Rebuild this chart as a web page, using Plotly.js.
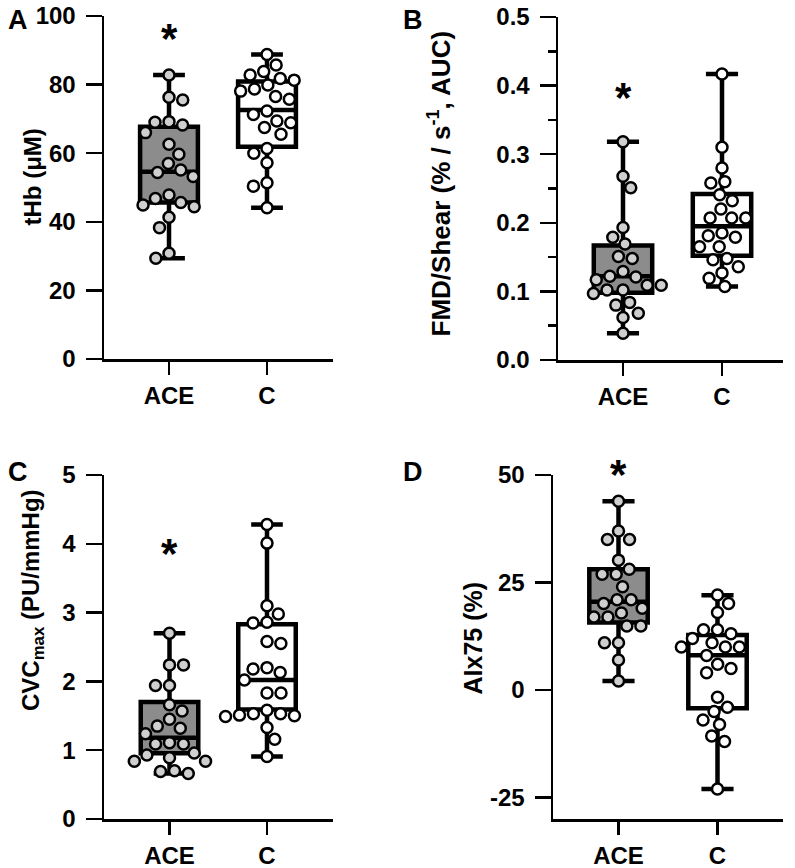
<!DOCTYPE html>
<html>
<head>
<meta charset="utf-8">
<script src="https://cdn.plot.ly/plotly-3.0.1.min.js"></script>
<style>html,body{margin:0;padding:0;background:#fff;}#chart{width:795px;height:868px;}</style>
</head>
<body>
<div id="chart"></div>
<script>
// ---------------- DATA ----------------
const groups = ["ACE", "C"];

// Panel A: tHb (µM)
const tHbACE = [82.8, 76.3, 75.5, 69.2, 68.2, 69.0, 66.0, 62.6, 59.7, 57.0, 54.4, 53.2, 55.1, 47.8, 46.8, 45.6, 44.9, 44.4, 41.3, 38.3, 30.8, 29.4];
const tHbC   = [88.8, 85.7, 83.8, 82.8, 81.3, 81.8, 79.9, 78.7, 78.1, 76.5, 75.7, 72.3, 71.3, 69.4, 68.9, 67.5, 65.5, 61.4, 60.0, 57.2, 51.4, 50.4, 44.1];
// box stats: [min, q1, median, q3, max]
const tHbBoxACE = [29.4, 45.6, 54.6, 67.7, 82.8];
const tHbBoxC   = [44.1, 61.9, 72.6, 80.9, 88.8];

// Panel B: FMD/Shear
const fmdACE = [0.318, 0.268, 0.251, 0.193, 0.179, 0.169, 0.151, 0.148, 0.129, 0.122, 0.117, 0.121, 0.109, 0.109, 0.102, 0.102, 0.097, 0.080, 0.084, 0.068, 0.062, 0.039];
const fmdC   = [0.417, 0.310, 0.280, 0.260, 0.258, 0.241, 0.232, 0.220, 0.207, 0.207, 0.207, 0.185, 0.181, 0.179, 0.165, 0.165, 0.148, 0.146, 0.136, 0.127, 0.119, 0.107];
const fmdBoxACE = [0.039, 0.098, 0.122, 0.167, 0.318];
const fmdBoxC   = [0.107, 0.152, 0.195, 0.242, 0.417];

// Panel C: CVCmax (PU/mmHg)
const cvcACE = [2.70, 2.24, 2.24, 1.94, 1.94, 1.66, 1.57, 1.45, 1.35, 1.32, 1.24, 1.11, 1.09, 1.09, 0.96, 0.93, 0.89, 0.84, 0.84, 0.69, 0.70, 0.66];
const cvcC   = [4.28, 4.01, 3.10, 2.98, 2.86, 2.85, 2.55, 2.58, 2.20, 2.18, 2.13, 2.02, 1.83, 1.83, 1.58, 1.50, 1.51, 1.49, 1.53, 1.53, 1.33, 1.16, 0.91];
const cvcBoxACE = [0.66, 0.955, 1.18, 1.70, 2.70];
const cvcBoxC   = [0.91, 1.59, 2.02, 2.83, 4.28];

// Panel D: AIx75 (%)
const aixACE = [43.9, 37.0, 35.0, 35.0, 30.2, 28.1, 26.9, 26.9, 24.0, 21.0, 21.0, 19.0, 20.1, 17.9, 17.0, 17.0, 14.9, 14.9, 11.0, 11.0, 7.0, 2.1];
const aixC   = [22.1, 20.1, 18.0, 14.0, 14.0, 13.1, 12.0, 11.0, 10.0, 10.0, 10.0, 8.0, 5.0, 6.0, 4.0, -1.7, -4.0, -5.0, -7.0, -8.0, -10.7, -12.0, -23.0];
const aixBoxACE = [2.1, 15.7, 20.5, 28.1, 43.9];
const aixBoxC   = [-23.0, -4.25, 8.1, 12.8, 22.05];

// significance marker level per panel
const sigA = 95.3, sigB = 0.391, sigC = 3.94, sigD = 51.5;

// y-axis ticks and titles
const ticksA = [0, 20, 40, 60, 80, 100];
const ticksB = [0.0, 0.1, 0.2, 0.3, 0.4, 0.5];
const ticksC = [0, 1, 2, 3, 4, 5];
const ticksD = [-25, 0, 25, 50];
const yTitles = ["tHb (μM)", "FMD/Shear (% / s<sup>-1</sup>, AUC)", "CVC<sub>max</sub> (PU/mmHg)", "AIx75 (%)"];
const panelLetters = ["A", "B", "C", "D"];

// ---------------- LAYOUT / STYLE ----------------
const W = 795, H = 868;
const FONT = "Liberation Sans, Arial, sans-serif";
const panels = [
  {id: "", px: [104, 333], py: [16, 359], yr: [0, 100], ticks: ticksA, dec: 0, minor: null,
   tsize: 24, tpos: [32, 177.5], ace: tHbACE, c: tHbC, boxA: tHbBoxACE, boxC: tHbBoxC, sig: sigA, letterPos: [6, 3]},
  {id: "2", px: [558, 783], py: [17, 360], yr: [0, 0.5], ticks: ticksB, dec: 1, minor: 0.05,
   tsize: 26, tpos: [440, 183.5], ace: fmdACE, c: fmdC, boxA: fmdBoxACE, boxC: fmdBoxC, sig: sigB, letterPos: [401, 3]},
  {id: "3", px: [104, 333], py: [475, 819], yr: [0, 5], ticks: ticksC, dec: 0, minor: null,
   tsize: 24, tpos: [32, 600], ace: cvcACE, c: cvcC, boxA: cvcBoxACE, boxC: cvcBoxC, sig: sigC, letterPos: [6, 455]},
  {id: "4", px: [553, 783], py: [475, 819], yr: [-30, 50], ticks: ticksD, dec: 0, minor: null,
   tsize: 25, tpos: [472, 638.5], ace: aixACE, c: aixC, boxA: aixBoxACE, boxC: aixBoxC, sig: sigD, letterPos: [401, 455]}
];
// category positions in pixels along each x axis (ACE, C)
const catPx = [[169, 267], [623, 722], [169.5, 267], [618.5, 717.5]];

const BOX_W = 0.59, WHISK = 0.55, LINE_W = 4.5;
const MARK = 11, MARK_LINE = 2.5;
const MIN_DIST = 14;

// beeswarm offsets (computed from the values and the axis scale)
function swarm(vals, pxPerY, pxPerX) {
  const order = vals.map((v, i) => i).sort((a, b) => vals[b] - vals[a]);
  const placed = [];
  const offs = new Array(vals.length).fill(0);
  for (const i of order) {
    const y = vals[i] * pxPerY;
    const near = placed.filter(p => Math.abs(p.y - y) < MIN_DIST);
    const cands = [0];
    near.forEach(p => {
      const dx = Math.sqrt(MIN_DIST * MIN_DIST - (p.y - y) * (p.y - y)) + 0.01;
      cands.push(p.x - dx, p.x + dx);
    });
    const ok = cands.filter(x => near.every(p => Math.hypot(p.x - x, p.y - y) >= MIN_DIST - 0.001));
    const bal = placed.reduce((s, p) => s + p.x, 0);
    ok.sort((a, b) => {
      const d = Math.abs(a) - Math.abs(b);
      if (Math.abs(d) > 0.5) return d;
      return bal > 0 ? a - b : b - a;
    });
    const x = ok[0];
    placed.push({x: x, y: y});
    offs[i] = x / pxPerX;
  }
  return offs;
}

const traces = [];
const layout = {
  width: W, height: H, margin: {l: 0, r: 0, t: 0, b: 0},
  paper_bgcolor: "#fff", plot_bgcolor: "#fff", showlegend: false,
  font: {family: FONT, color: "#000"},
  annotations: []
};

panels.forEach((p, pi) => {
  const xa = "x" + p.id, ya = "y" + p.id;
  const pxPerX = catPx[pi][1] - catPx[pi][0];
  const xr = [(p.px[0] - catPx[pi][0]) / pxPerX, 1 + (p.px[1] - catPx[pi][1]) / pxPerX];
  const pxPerY = (p.py[1] - p.py[0]) / (p.yr[1] - p.yr[0]);

  const axX = {
    domain: [p.px[0] / W, p.px[1] / W], range: xr, anchor: ya,
    tickmode: "array", tickvals: [0, 1], ticktext: groups,
    showline: true, linewidth: 2.5, linecolor: "#000", mirror: false,
    ticks: "outside", ticklen: 13, tickwidth: 2.5, tickcolor: "#000", ticklabelstandoff: 1,
    tickfont: {family: FONT, size: 24, weight: "bold", color: "#000"},
    showgrid: false, zeroline: false, fixedrange: true
  };
  const axY = {
    domain: [1 - p.py[1] / H, 1 - p.py[0] / H], range: p.yr, anchor: xa,
    tickmode: "array", tickvals: p.ticks, ticktext: p.ticks.map(v => v.toFixed(p.dec)),
    showline: true, linewidth: 2.5, linecolor: "#000",
    ticks: "outside", ticklen: 16, tickwidth: 2.5, tickcolor: "#000", ticklabelstandoff: 5,
    tickfont: {family: FONT, size: 24, weight: "bold", color: "#000"},
    showgrid: false, zeroline: false, fixedrange: true
  };
  if (p.minor) axY.minor = {dtick: p.minor, tick0: 0, ticks: "outside", ticklen: 8, tickwidth: 2.5, tickcolor: "#000", showgrid: false};
  layout["xaxis" + p.id] = axX;
  layout["yaxis" + p.id] = axY;

  [[p.boxA, "#8c8c8c", 0], [p.boxC, "#ffffff", 1]].forEach(([b, fill, xi]) => {
    traces.push({
      type: "box", x: [xi], lowerfence: [b[0]], q1: [b[1]], median: [b[2]], q3: [b[3]], upperfence: [b[4]],
      width: BOX_W, whiskerwidth: WHISK, fillcolor: fill, line: {color: "#000", width: LINE_W},
      boxpoints: false, xaxis: xa, yaxis: ya, hoverinfo: "skip", showlegend: false
    });
  });

  [[p.ace, "#cfcfcf", 0], [p.c, "#ffffff", 1]].forEach(([vals, fill, xi]) => {
    const offs = swarm(vals, pxPerY, pxPerX);
    traces.push({
      type: "scatter", mode: "markers", x: vals.map((v, i) => xi + offs[i]), y: vals,
      marker: {size: MARK, color: fill, line: {color: "#000", width: MARK_LINE}},
      xaxis: xa, yaxis: ya, hoverinfo: "y", showlegend: false, cliponaxis: false
    });
  });

  // significance star: anchored inside the axis range, shifted to its level
  const yIn = Math.min(p.sig, p.yr[1]);
  layout.annotations.push({
    xref: xa, yref: ya, x: 0, y: yIn, text: "*", showarrow: false,
    font: {family: FONT, size: 42, weight: "bold", color: "#000"}, xanchor: "center", yanchor: "middle",
    yshift: -6 + (p.sig - yIn) * pxPerY
  });
  // y-axis title (rotated text)
  layout.annotations.push({
    xref: "paper", yref: "paper", x: p.tpos[0] / W, y: 1 - p.tpos[1] / H, text: yTitles[pi], showarrow: false,
    textangle: -90, xanchor: "center", yanchor: "middle",
    font: {family: FONT, size: p.tsize, weight: "bold", color: "#000"}
  });
  // panel letter
  layout.annotations.push({
    xref: "paper", yref: "paper", x: p.letterPos[0] / W, y: 1 - p.letterPos[1] / H, text: panelLetters[pi], showarrow: false,
    font: {family: FONT, size: 27, weight: "bold", color: "#000"}, xanchor: "left", yanchor: "top"
  });
});

Plotly.newPlot("chart", traces, layout, {staticPlot: true, displayModeBar: false});
</script>
</body>
</html>
